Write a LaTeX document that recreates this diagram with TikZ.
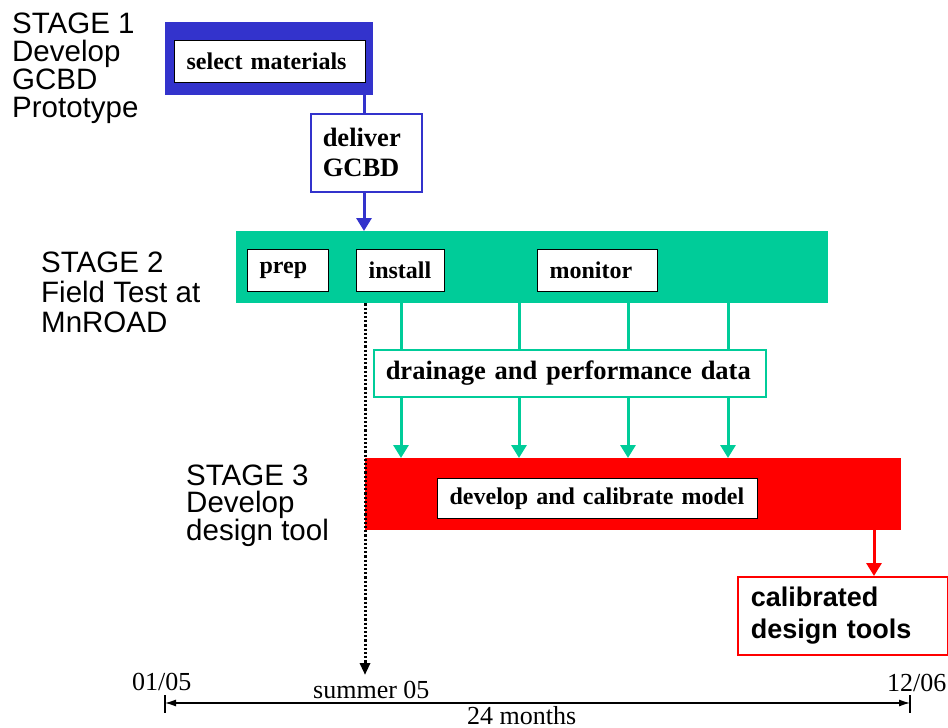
\documentclass[tikz,border=0pt]{standalone}
\usepackage{fontspec}
\setmainfont{Liberation Serif}
\setsansfont{Liberation Sans}
\usetikzlibrary{arrows.meta}
\definecolor{blueA}{RGB}{51,51,204}
\definecolor{greenA}{RGB}{0,204,153}
\definecolor{redA}{RGB}{255,0,0}
\tikzset{
  bigbox/.style={anchor=north west, inner sep=0pt},
  inbox/.style={draw=black, line width=1.2pt, fill=white, anchor=north west,
    font=\fontsize{24}{28}\selectfont\bfseries, inner xsep=12pt, inner ysep=0pt, align=left},
  stagelabel/.style={anchor=north west, inner sep=0pt, align=left},
  tl/.style={font=\fontsize{26}{30}\selectfont, anchor=base west, inner sep=0pt},
  tipbig/.style={-{Triangle[width=15pt,length=13pt]}},
  blueln/.style={draw=blueA, line width=3pt},
  greenln/.style={draw=greenA, line width=3pt},
  redln/.style={draw=redA, line width=3pt},
  dotln/.style={draw=black, line width=3pt, dash pattern=on 2.2pt off 2pt, -{Triangle[width=10pt,length=12pt]}},
  timeln/.style={draw=black, line width=1.2pt, {Latex[length=11pt,width=7pt]}-{Latex[length=11pt,width=7pt]}},
}
\begin{document}
\begin{tikzpicture}[x=1pt,y=-1pt]
\useasboundingbox (0,0) rectangle (948,728);

% stage labels
\node[stagelabel, font=\sffamily\fontsize{29.5}{28}\selectfont] (st1) at (12,13) {STAGE 1\\Develop\\GCBD\\Prototype};
\node[stagelabel, font=\sffamily\fontsize{29.5}{30}\selectfont] (st2) at (41,252) {STAGE 2\\Field Test at\\MnROAD};
\node[stagelabel, font=\sffamily\fontsize{29.5}{26.5}\selectfont] (st3) at (186,465) {STAGE 3\\Develop\\design tool};

% stage 1
\node[bigbox, fill=blueA, minimum width=208pt, minimum height=73pt] (b1) at (165,22) {};
\node[inbox, text width=167pt, minimum height=42pt] (sel) at (174,40) {select materials};
\node[draw=blueA, line width=1.5pt, fill=white, anchor=north west, font=\fontsize{26.5}{30}\selectfont\bfseries,
  align=left, text width=87pt, inner xsep=12pt, inner ysep=0pt, minimum height=78pt] (deliv) at (310,113) {deliver\\GCBD};

% stage 2
\node[bigbox, fill=greenA, minimum width=592pt, minimum height=72pt] (green) at (236,231) {};
\node[inbox, text width=57pt, minimum height=42pt] (prep) at (247,249) {prep};
\node[inbox, text width=64pt, minimum height=42pt] (inst) at (356,249) {install};
\node[inbox, text width=96pt, minimum height=42pt] (mon) at (537,249) {monitor};

\node[draw=greenA, line width=1.5pt, fill=white, anchor=north west, font=\fontsize{26.5}{30}\selectfont\bfseries,
  align=left, text width=368pt, inner xsep=12pt, inner ysep=0pt, minimum height=47pt] (drain) at (373,349) {drainage and performance data};

% stage 3
\node[bigbox, fill=redA, minimum width=536pt, minimum height=72pt] (red) at (365,458) {};
\node[inbox, text width=296pt, minimum height=40pt] (model) at (437,478) {develop and calibrate model};
\node[draw=redA, line width=1.5pt, fill=white, anchor=north west, font=\sffamily\fontsize{27}{32}\selectfont\bfseries,
  align=left, text width=184pt, inner xsep=13pt, inner ysep=0pt, minimum height=78pt] (calib) at (737,576) {calibrated\\design tools};

% connectors
\coordinate (bx) at (364,0);
\draw[blueln] (bx |- b1.south) -- (bx |- deliv.north);
\draw[blueln, tipbig] (bx |- deliv.south) -- (bx |- green.north);

\foreach \i/\xx in {1/401,2/519,3/628,4/728}{
  \coordinate (g\i) at (\xx,0);
  \draw[greenln] (g\i |- green.south) -- (g\i |- drain.north);
  \draw[greenln, tipbig] (g\i |- drain.south) -- (g\i |- red.north);
}

\coordinate (rx) at (874,0);
\draw[redln, tipbig] (rx |- red.south) -- (rx |- calib.north);

\coordinate (dend) at (365,675);
\draw[dotln] (dend |- green.south) -- (dend);

% timeline
\coordinate (t0) at (165,703);
\coordinate (t1) at (910,703);
\draw[timeln] (t0) -- (t1);
\draw[line width=1.2pt] ([yshift=8pt]t0) -- ([yshift=-10pt]t0);
\draw[line width=1.2pt] ([yshift=8pt]t1) -- ([yshift=-10pt]t1);
\node[tl] (d0) at (132,690) {01/05};
\node[tl] (d1) at (887,691) {12/06};
\node[tl] (sum) at (313,698) {summer 05};
\node[tl] (mo) at (467,724) {24 months};
\end{tikzpicture}
\end{document}
